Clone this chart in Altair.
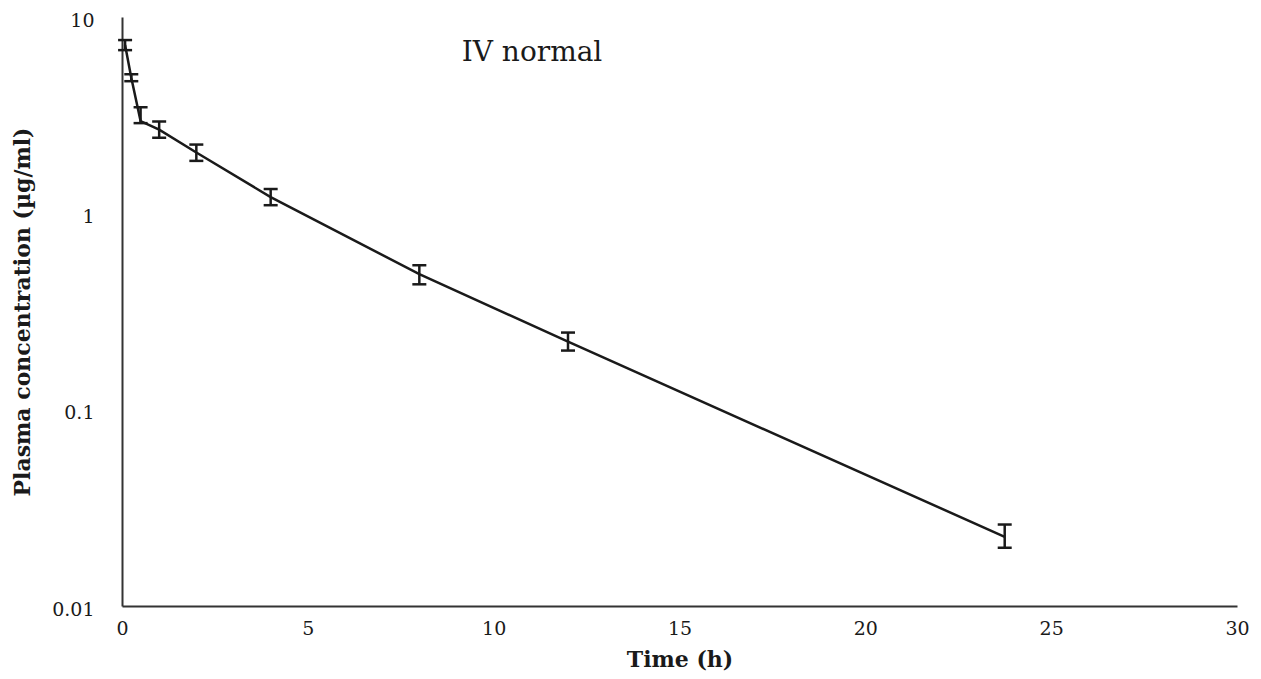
import altair as alt
import pandas as pd

# Data
time_h = [0.083, 0.25, 0.5, 1, 2, 4, 8, 12, 23.75]
conc_mean = [7.2, 4.9, 2.95, 2.67, 2.04, 1.21, 0.49, 0.222, 0.0225]
conc_low = [6.78, 4.71, 2.88, 2.43, 1.85, 1.10, 0.435, 0.200, 0.0198]
conc_high = [7.63, 5.11, 3.47, 2.94, 2.24, 1.33, 0.544, 0.247, 0.026]

x_ticks = [0, 5, 10, 15, 20, 25, 30]
y_ticks = [0.01, 0.1, 1, 10]
title_text = "IV normal"

df = pd.DataFrame({"t": time_h, "m": conc_mean, "lo": conc_low, "hi": conc_high})

FONT = "DejaVu Serif"
INK = "#1a1a1a"

xs = alt.Scale(domain=[0, 30], nice=False)
ys = alt.Scale(type="log", domain=[0.01, 10], nice=False)

x_axis = alt.Axis(values=x_ticks, ticks=False, grid=False, labelPadding=13, labelFlush=False,
                  title="Time (h)", titlePadding=11)
y_axis = alt.Axis(values=y_ticks, format="~g", ticks=False, grid=False, labelPadding=28,
                  labelFlush=False, labelOffset=3,
                  title="Plasma concentration (µg/ml)", titleAngle=-90,
                  titleX=-100, titleY=294.5, titleAlign="center", titleBaseline="middle")

base = alt.Chart(df)

line = base.mark_line(color=INK, strokeWidth=2.5).encode(
    x=alt.X("t:Q", scale=xs, axis=x_axis),
    y=alt.Y("m:Q", scale=ys, axis=y_axis),
)

rules = base.mark_rule(color=INK, strokeWidth=2.5).encode(
    x=alt.X("t:Q", scale=xs),
    y=alt.Y("lo:Q", scale=ys),
    y2="hi:Q",
)

cap_lo = base.mark_tick(color=INK, orient="horizontal", size=14, thickness=2.5, opacity=1).encode(
    x=alt.X("t:Q", scale=xs),
    y=alt.Y("lo:Q", scale=ys),
)
cap_hi = base.mark_tick(color=INK, orient="horizontal", size=14, thickness=2.5, opacity=1).encode(
    x=alt.X("t:Q", scale=xs),
    y=alt.Y("hi:Q", scale=ys),
)

label = alt.Chart(pd.DataFrame({"txt": [title_text]})).mark_text(
    font=FONT, fontSize=28, color=INK, align="center", baseline="middle"
).encode(
    x=alt.value(410), y=alt.value(36), text="txt:N"
)

chart = alt.layer(line, rules, cap_lo, cap_hi, label).properties(
    width=1115, height=589,
    autosize=alt.AutoSizeParams(type="none"),
    padding={"left": 114, "top": 9, "right": 16, "bottom": 65},
).configure_view(stroke=None).configure_axis(
    domainColor="#333333", domainWidth=2,
    labelFont=FONT, labelFontSize=19, labelColor=INK,
    titleFont=FONT, titleFontSize=22, titleFontWeight="bold", titleColor=INK,
)

chart.save("out.html", embed_options={"renderer": "svg", "actions": False})
